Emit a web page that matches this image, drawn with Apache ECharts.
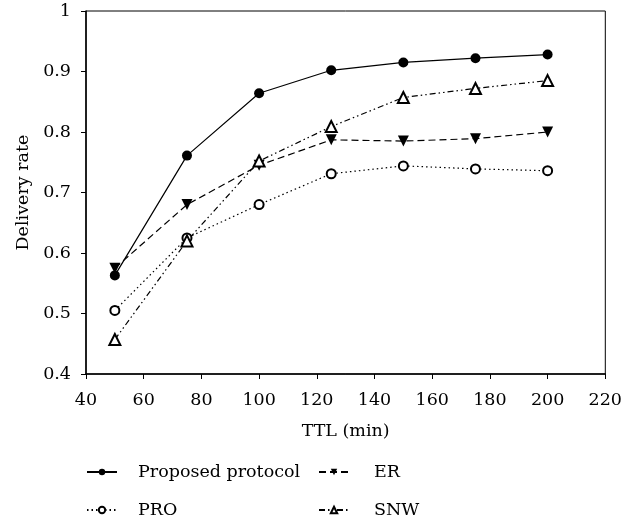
<!DOCTYPE html>
<html><head><meta charset="utf-8">
<script src="https://cdn.jsdelivr.net/npm/echarts@6/dist/echarts.min.js"></script>
<style>html,body{margin:0;padding:0;background:#fff}#c{width:625px;height:519px}</style>
</head><body><div id="c"></div>
<script>
const ttl = [50, 75, 100, 125, 150, 175, 200];
const proposed = [0.563, 0.761, 0.864, 0.902, 0.915, 0.922, 0.928];
const er = [0.575, 0.680, 0.745, 0.787, 0.785, 0.789, 0.800];
const pro = [0.505, 0.625, 0.680, 0.731, 0.744, 0.739, 0.736];
const snw = [0.457, 0.620, 0.752, 0.809, 0.857, 0.872, 0.885];
const xTicks = [40, 60, 80, 100, 120, 140, 160, 180, 200, 220];
const yTicks = [0.4, 0.5, 0.6, 0.7, 0.8, 0.9, 1];

const font = 'DejaVu Serif';
const fs = 17.5;
const pts = a => ttl.map((x, i) => [x, a[i]]);
const chart = echarts.init(document.getElementById('c'));
const mkLegend = (name, left, top, pad) => ({
  data: [name], left, top, itemWidth: 30, itemHeight: 8, padding: 0,
  textStyle: {fontFamily: font, fontSize: fs, color: '#000', padding: [0, 0, 0, pad]}
});
chart.setOption({
  animation: false,
  grid: {left: 86, right: 15, top: 11, bottom: 145, show: true, borderColor: '#000', borderWidth: 1},
  xAxis: {
    type: 'value', min: xTicks[0], max: xTicks[xTicks.length-1], interval: 20,
    name: 'TTL (min)', nameLocation: 'middle', nameGap: 48,
    nameTextStyle: {fontFamily: font, fontSize: fs, color: '#000'},
    axisLine: {lineStyle: {color: '#000', width: 1.5}},
    axisTick: {inside: false, length: 5, lineStyle: {color: '#000'}},
    axisLabel: {fontFamily: font, fontSize: fs, color: '#000', margin: 17},
    splitLine: {show: false}
  },
  yAxis: {
    type: 'value', min: yTicks[0], max: yTicks[yTicks.length-1], interval: 0.1,
    name: 'Delivery rate', nameLocation: 'middle', nameGap: 54,
    nameTextStyle: {fontFamily: font, fontSize: fs, color: '#000'},
    axisLine: {show: true, lineStyle: {color: '#000', width: 1.5}},
    axisTick: {show: true, length: 5, lineStyle: {color: '#000'}},
    axisLabel: {fontFamily: font, fontSize: fs, color: '#000', margin: 15,
      formatter: v => (Math.round(v*10)/10).toString()},
    splitLine: {show: false}
  },
  legend: [
    mkLegend('Proposed protocol', 86, 463, 16),
    mkLegend('ER', 318, 463, 20),
    mkLegend('PRO', 86, 501, 16),
    mkLegend('SNW', 318, 501, 20)
  ],
  series: [
    {name: 'Proposed protocol', type: 'line', data: pts(proposed), symbol: 'circle', symbolSize: 10,
     itemStyle: {color: '#000'}, lineStyle: {color: '#000', width: 1.2, type: 'solid'}},
    {name: 'ER', type: 'line', data: pts(er), symbol: 'triangle', symbolRotate: 180, symbolSize: 11,
     itemStyle: {color: '#000'}, lineStyle: {color: '#000', width: 1.2, type: [7, 4]}},
    {name: 'PRO', type: 'line', data: pts(pro), symbol: 'emptyCircle', symbolSize: 9,
     itemStyle: {color: '#000', borderWidth: 1.2}, lineStyle: {color: '#000', width: 1.2, type: [1.5, 3]}},
    {name: 'SNW', type: 'line', data: pts(snw), symbol: 'emptyTriangle', symbolSize: 11,
     itemStyle: {color: '#000', borderWidth: 1.2}, lineStyle: {color: '#000', width: 1.2, type: [6, 3, 1.5, 3, 1.5, 3]}}
  ]
});
</script></body></html>
